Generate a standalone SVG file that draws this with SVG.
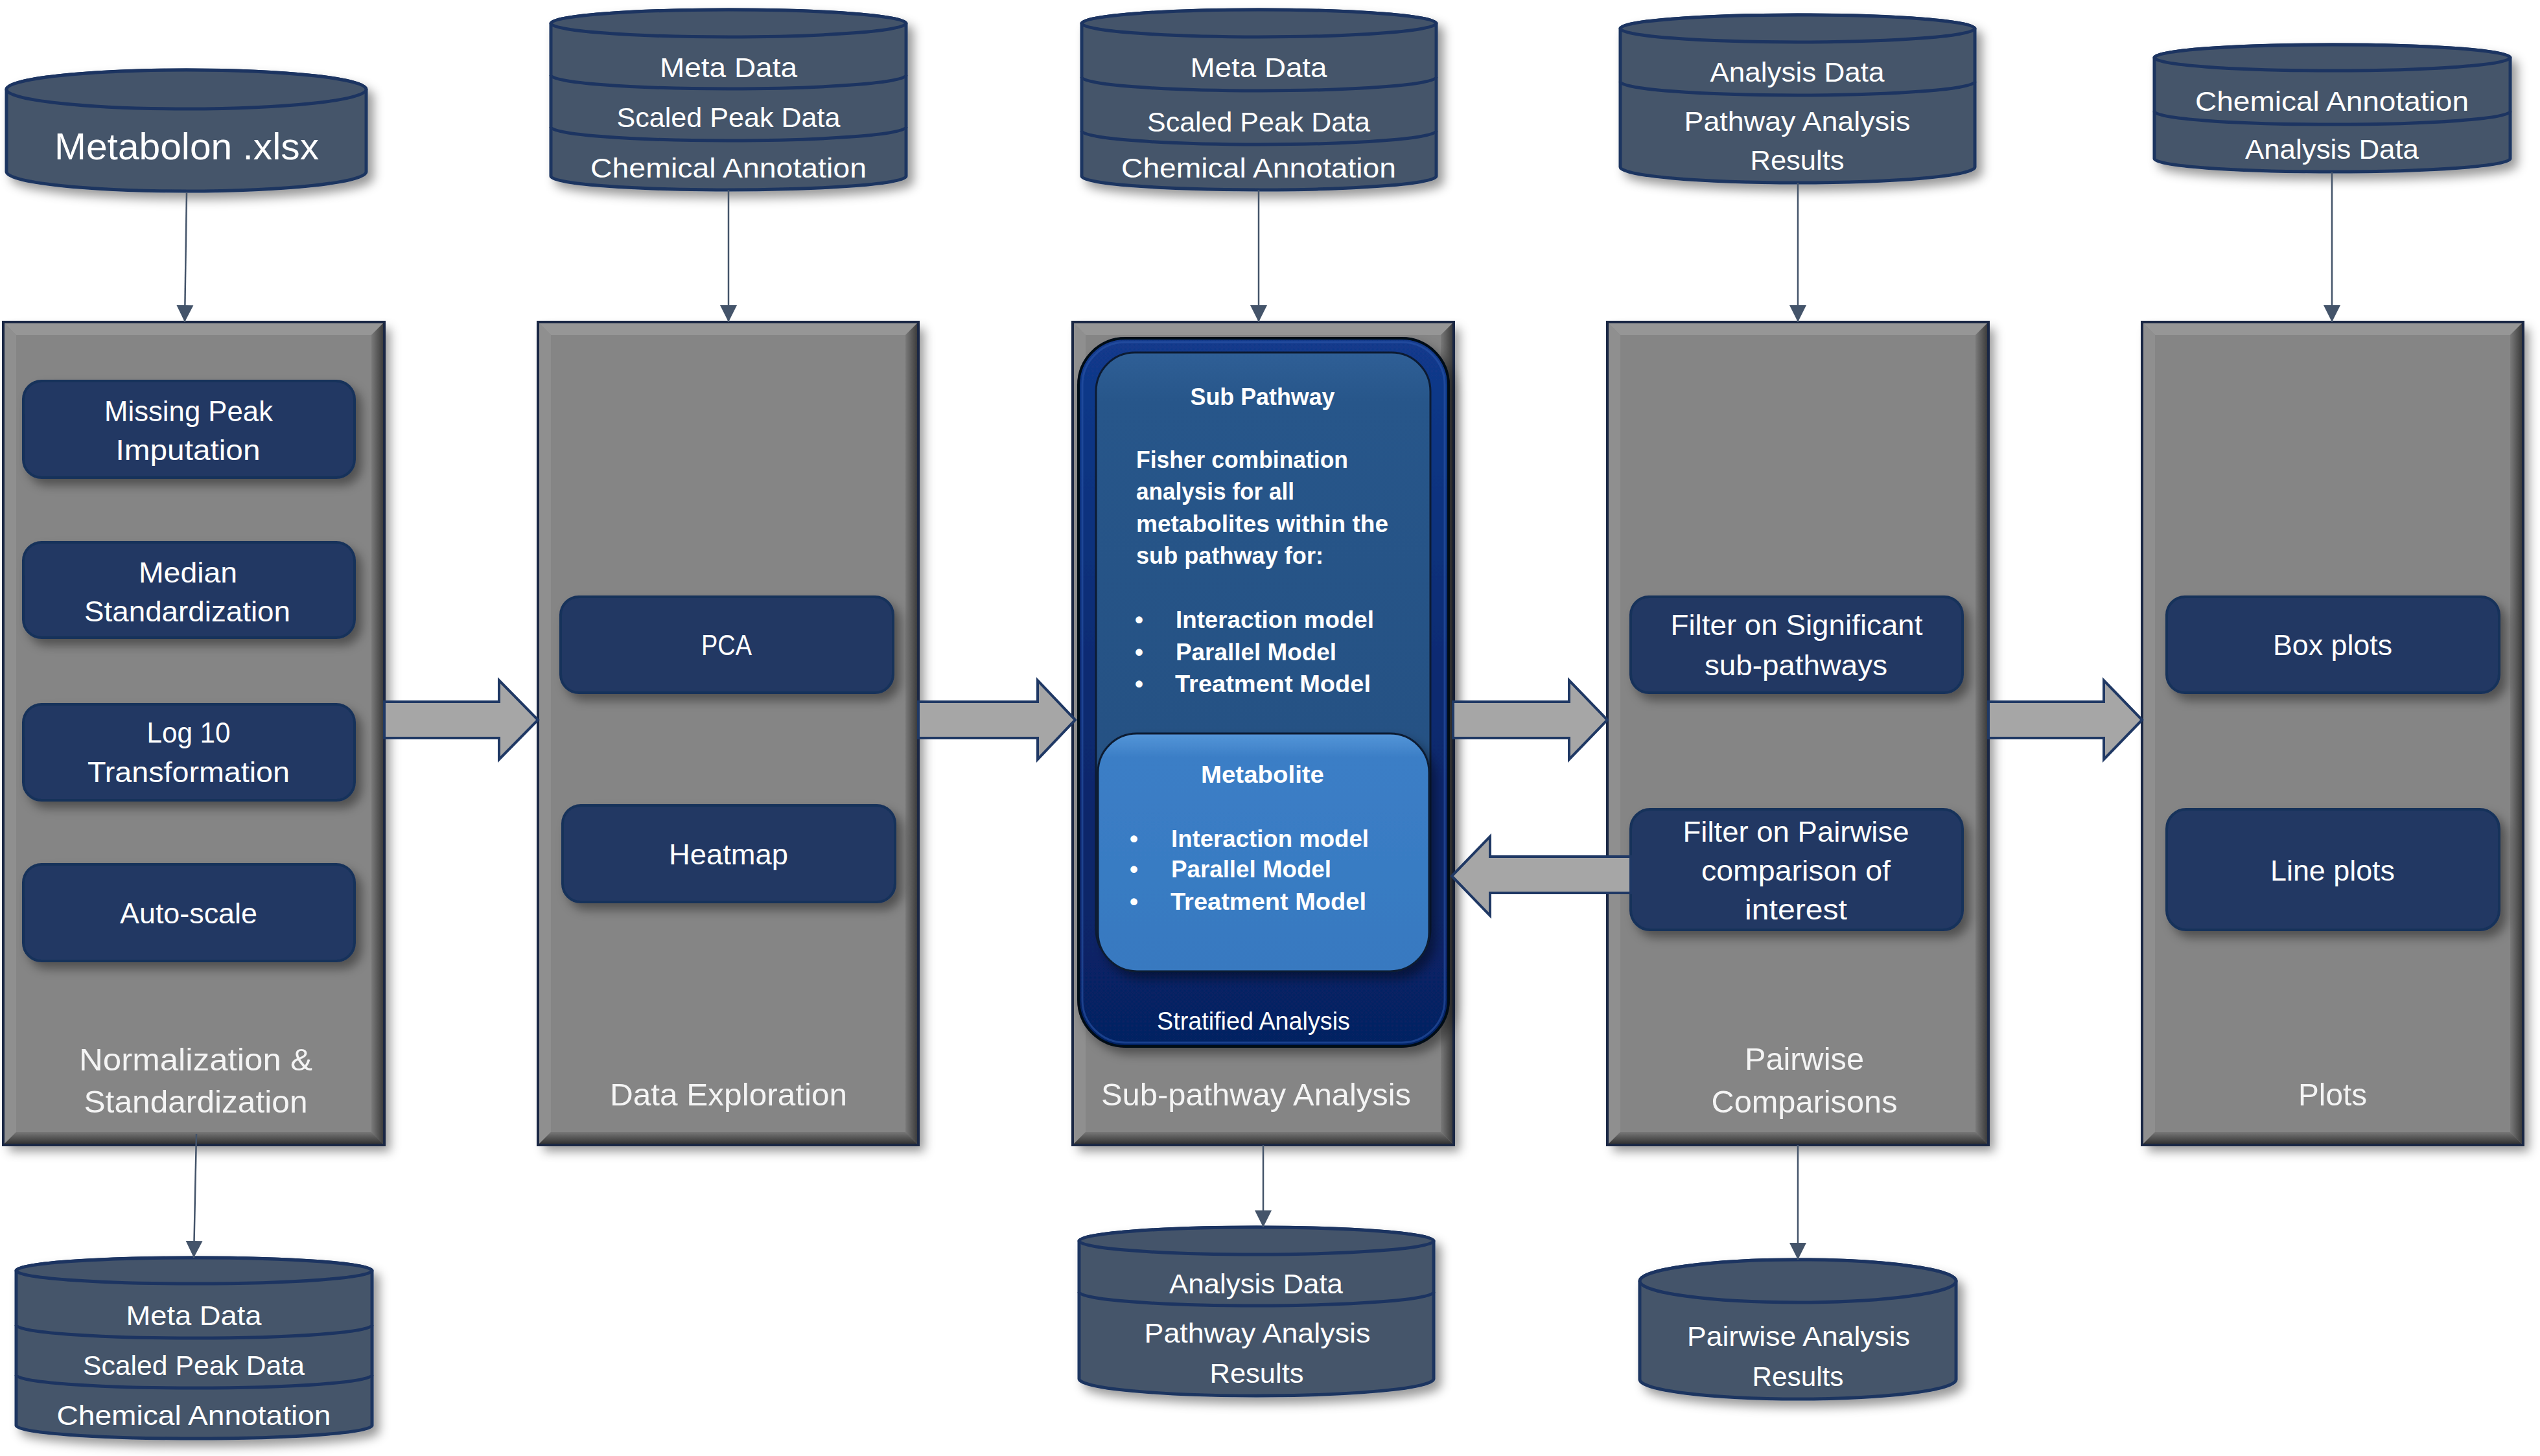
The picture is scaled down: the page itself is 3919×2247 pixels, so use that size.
<svg xmlns="http://www.w3.org/2000/svg" width="3919" height="2247" viewBox="0 0 3919 2247">
<style>
text{font-family:"Liberation Sans",Arial,sans-serif;fill:#ffffff}
.cyl{fill:#44546a;stroke:#1c3461;stroke-width:5}
.cylline{fill:none;stroke:#1c3461;stroke-width:5}
.ct{font-size:43px;text-anchor:middle}
.pbase{fill:#858585}
.pedge{fill:none;stroke:#1a2744;stroke-width:4}
.box{fill:#203864;stroke:#18305a;stroke-width:4}
.bt{font-size:44px;text-anchor:middle}
.pl{font-size:49px;text-anchor:middle;fill:#f4f4f4}
.blk{fill:#a6a6a6;stroke:#1f3864;stroke-width:4;stroke-linejoin:miter}
.con{stroke:#44546a;stroke-width:2.5;fill:none}
.sb{font-size:37px;font-weight:bold}
.sbc{font-size:37px;font-weight:bold;text-anchor:middle}
</style>
<defs>
<filter id="sh" x="-10%" y="-10%" width="130%" height="130%">
<feDropShadow dx="9" dy="10" stdDeviation="8" flood-color="#000" flood-opacity="0.4"/>
</filter>
<linearGradient id="gBot" x1="0" y1="0" x2="0" y2="1"><stop offset="0" stop-color="#777"/><stop offset="1" stop-color="#2c2c2c"/></linearGradient>
<linearGradient id="gRight" x1="0" y1="0" x2="1" y2="0"><stop offset="0" stop-color="#7a7a7a"/><stop offset="1" stop-color="#363636"/></linearGradient>
<linearGradient id="gOuter" x1="0" y1="0" x2="0" y2="1"><stop offset="0" stop-color="#123a8c"/><stop offset="0.5" stop-color="#0a2a70"/><stop offset="1" stop-color="#062262"/></linearGradient>
<linearGradient id="gSub" x1="0" y1="0" x2="0" y2="1"><stop offset="0" stop-color="#2f5f96"/><stop offset="0.08" stop-color="#27568a"/><stop offset="1" stop-color="#244f80"/></linearGradient>
<linearGradient id="gMet" x1="0" y1="0" x2="0" y2="1"><stop offset="0" stop-color="#5596d8"/><stop offset="0.1" stop-color="#3b7ec6"/><stop offset="1" stop-color="#3779c0"/></linearGradient>
<marker id="ah" markerUnits="userSpaceOnUse" markerWidth="28" markerHeight="28" viewBox="0 0 28 28" refX="26" refY="14" orient="auto">
<path d="M0,1 L26,14 L0,27 Z" fill="#44546a"/>
</marker>
</defs>
<rect width="3919" height="2247" fill="#ffffff"/>

<!-- Panels -->
<g id="panel-normalization">
<g filter="url(#sh)"><rect class="pbase" x="5" y="497" width="588" height="1270"/></g>
<polygon points="5,497 593,497 573,517 25,517" fill="#969696"/>
<polygon points="5,497 25,517 25,1747 5,1767" fill="#8f8f8f"/>
<polygon points="593,497 593,1767 573,1747 573,517" fill="url(#gRight)"/>
<polygon points="5,1767 593,1767 573,1747 25,1747" fill="url(#gBot)"/>
<rect class="pedge" x="5" y="497" width="588" height="1270"/>
<g filter="url(#sh)">
<rect class="box" x="36" y="588" width="511" height="149" rx="28"/>
<rect class="box" x="36" y="837" width="511" height="147" rx="28"/>
<rect class="box" x="36" y="1087" width="511" height="148" rx="28"/>
<rect class="box" x="36" y="1334" width="511" height="149" rx="28"/>
</g>
<text class="bt" x="291" y="650" textLength="260" lengthAdjust="spacingAndGlyphs">Missing Peak</text>
<text class="bt" x="290" y="710" textLength="223" lengthAdjust="spacingAndGlyphs">Imputation</text>
<text class="bt" x="290" y="899" textLength="152" lengthAdjust="spacingAndGlyphs">Median</text>
<text class="bt" x="289" y="959" textLength="318" lengthAdjust="spacingAndGlyphs">Standardization</text>
<text class="bt" x="291" y="1146" textLength="129" lengthAdjust="spacingAndGlyphs">Log 10</text>
<text class="bt" x="291" y="1207" textLength="312" lengthAdjust="spacingAndGlyphs">Transformation</text>
<text class="bt" x="291" y="1425" textLength="212" lengthAdjust="spacingAndGlyphs">Auto-scale</text>
<text class="pl" x="302" y="1652" textLength="360" lengthAdjust="spacingAndGlyphs">Normalization &amp;</text>
<text class="pl" x="302" y="1717" textLength="345" lengthAdjust="spacingAndGlyphs">Standardization</text>
</g>

<g id="panel-exploration">
<g filter="url(#sh)"><rect class="pbase" x="830" y="497" width="587" height="1270"/></g>
<polygon points="830,497 1417,497 1397,517 850,517" fill="#969696"/>
<polygon points="830,497 850,517 850,1747 830,1767" fill="#8f8f8f"/>
<polygon points="1417,497 1417,1767 1397,1747 1397,517" fill="url(#gRight)"/>
<polygon points="830,1767 1417,1767 1397,1747 850,1747" fill="url(#gBot)"/>
<rect class="pedge" x="830" y="497" width="587" height="1270"/>
<g filter="url(#sh)">
<rect class="box" x="865" y="921" width="513" height="148" rx="28"/>
<rect class="box" x="868" y="1243" width="513" height="149" rx="28"/>
</g>
<text class="bt" x="1121" y="1011" textLength="78" lengthAdjust="spacingAndGlyphs">PCA</text>
<text class="bt" x="1124" y="1334" textLength="184" lengthAdjust="spacingAndGlyphs">Heatmap</text>
<text class="pl" x="1124" y="1706" textLength="366" lengthAdjust="spacingAndGlyphs">Data Exploration</text>
</g>

<g id="panel-subpathway">
<g filter="url(#sh)"><rect class="pbase" x="1655" y="497" width="588" height="1270"/></g>
<polygon points="1655,497 2243,497 2223,517 1675,517" fill="#969696"/>
<polygon points="1655,497 1675,517 1675,1747 1655,1767" fill="#8f8f8f"/>
<polygon points="2243,497 2243,1767 2223,1747 2223,517" fill="url(#gRight)"/>
<polygon points="1655,1767 2243,1767 2223,1747 1675,1747" fill="url(#gBot)"/>
<rect class="pedge" x="1655" y="497" width="588" height="1270"/>
<text class="pl" x="1938" y="1706" textLength="478" lengthAdjust="spacingAndGlyphs">Sub-pathway Analysis</text>
</g>

<g id="stratified">
<g filter="url(#sh)"><rect x="1664" y="522" width="571" height="1093" rx="72" fill="url(#gOuter)" stroke="#000814" stroke-width="4"/></g>
<rect x="1670" y="528" width="559" height="1081" rx="66" fill="none" stroke="#2a55a8" stroke-width="3" opacity="0.6"/>
<rect x="1691" y="544" width="516" height="950" rx="60" fill="url(#gSub)" stroke="#0c1b33" stroke-width="3"/>
<g filter="url(#sh)"><rect x="1694" y="1132" width="511" height="367" rx="60" fill="url(#gMet)" stroke="#0c1b33" stroke-width="3"/></g>
<text class="sbc" x="1948" y="625" textLength="223" lengthAdjust="spacingAndGlyphs">Sub Pathway</text>
<text class="sb" x="1753" y="722" textLength="327" lengthAdjust="spacingAndGlyphs">Fisher combination</text>
<text class="sb" x="1753" y="771" textLength="244" lengthAdjust="spacingAndGlyphs">analysis for all</text>
<text class="sb" x="1753" y="821" textLength="389" lengthAdjust="spacingAndGlyphs">metabolites within the</text>
<text class="sb" x="1753" y="870" textLength="289" lengthAdjust="spacingAndGlyphs">sub pathway for:</text>
<text class="sb" x="1751" y="969">•</text>
<text class="sb" x="1751" y="1019">•</text>
<text class="sb" x="1751" y="1068">•</text>
<text class="sb" x="1814" y="969" textLength="306" lengthAdjust="spacingAndGlyphs">Interaction model</text>
<text class="sb" x="1814" y="1019" textLength="248" lengthAdjust="spacingAndGlyphs">Parallel Model</text>
<text class="sb" x="1813" y="1068" textLength="302" lengthAdjust="spacingAndGlyphs">Treatment Model</text>
<text class="sbc" x="1948" y="1208" textLength="190" lengthAdjust="spacingAndGlyphs">Metabolite</text>
<text class="sb" x="1743" y="1307">•</text>
<text class="sb" x="1743" y="1354">•</text>
<text class="sb" x="1743" y="1404">•</text>
<text class="sb" x="1807" y="1307" textLength="305" lengthAdjust="spacingAndGlyphs">Interaction model</text>
<text class="sb" x="1807" y="1354" textLength="247" lengthAdjust="spacingAndGlyphs">Parallel Model</text>
<text class="sb" x="1806" y="1404" textLength="302" lengthAdjust="spacingAndGlyphs">Treatment Model</text>
<text x="1934" y="1589" font-size="38" text-anchor="middle" textLength="298" lengthAdjust="spacingAndGlyphs">Stratified Analysis</text>
</g>

<g id="panel-pairwise">
<g filter="url(#sh)"><rect class="pbase" x="2480" y="497" width="588" height="1270"/></g>
<polygon points="2480,497 3068,497 3048,517 2500,517" fill="#969696"/>
<polygon points="2480,497 2500,517 2500,1747 2480,1767" fill="#8f8f8f"/>
<polygon points="3068,497 3068,1767 3048,1747 3048,517" fill="url(#gRight)"/>
<polygon points="2480,1767 3068,1767 3048,1747 2500,1747" fill="url(#gBot)"/>
<rect class="pedge" x="2480" y="497" width="588" height="1270"/>
<g filter="url(#sh)">
<rect class="box" x="2516" y="921" width="512" height="148" rx="28"/>
<rect class="box" x="2516" y="1249" width="512" height="186" rx="30"/>
</g>
<text class="bt" x="2772" y="980" textLength="389" lengthAdjust="spacingAndGlyphs">Filter on Significant</text>
<text class="bt" x="2771" y="1042" textLength="282" lengthAdjust="spacingAndGlyphs">sub-pathways</text>
<text class="bt" x="2771" y="1299" textLength="349" lengthAdjust="spacingAndGlyphs">Filter on Pairwise</text>
<text class="bt" x="2771" y="1359" textLength="292" lengthAdjust="spacingAndGlyphs">comparison of</text>
<text class="bt" x="2771" y="1419" textLength="158" lengthAdjust="spacingAndGlyphs">interest</text>
<text class="pl" x="2784" y="1651" textLength="184" lengthAdjust="spacingAndGlyphs">Pairwise</text>
<text class="pl" x="2784" y="1717" textLength="287" lengthAdjust="spacingAndGlyphs">Comparisons</text>
</g>

<g id="panel-plots">
<g filter="url(#sh)"><rect class="pbase" x="3305" y="497" width="588" height="1270"/></g>
<polygon points="3305,497 3893,497 3873,517 3325,517" fill="#969696"/>
<polygon points="3305,497 3325,517 3325,1747 3305,1767" fill="#8f8f8f"/>
<polygon points="3893,497 3893,1767 3873,1747 3873,517" fill="url(#gRight)"/>
<polygon points="3305,1767 3893,1767 3873,1747 3325,1747" fill="url(#gBot)"/>
<rect class="pedge" x="3305" y="497" width="588" height="1270"/>
<g filter="url(#sh)">
<rect class="box" x="3343" y="921" width="513" height="148" rx="28"/>
<rect class="box" x="3343" y="1249" width="513" height="186" rx="30"/>
</g>
<text class="bt" x="3599" y="1011" textLength="184" lengthAdjust="spacingAndGlyphs">Box plots</text>
<text class="bt" x="3599" y="1359" textLength="192" lengthAdjust="spacingAndGlyphs">Line plots</text>
<text class="pl" x="3599" y="1706" textLength="106" lengthAdjust="spacingAndGlyphs">Plots</text>
</g>

<!-- Data cylinders -->
<g id="db-metabolon">
<path class="cyl" filter="url(#sh)" d="M10,138 L10,265 A277.5,30 0 0 0 565,265 L565,138 A277.5,30 0 0 0 10,138 Z"/>
<ellipse class="cyl" cx="287.5" cy="138" rx="277.5" ry="30"/>
<text x="288" y="246" font-size="57" text-anchor="middle" textLength="408" lengthAdjust="spacingAndGlyphs">Metabolon .xlsx</text>
</g>

<g id="db-top-2">
<path class="cyl" filter="url(#sh)" d="M850,36 L850,272 A274,21 0 0 0 1398,272 L1398,36 A274,21 0 0 0 850,36 Z"/>
<ellipse class="cyl" cx="1124" cy="36" rx="274" ry="21"/>
<path class="cylline" d="M850,116 A274,21 0 0 0 1398,116"/>
<path class="cylline" d="M850,196 A274,21 0 0 0 1398,196"/>
<text class="ct" x="1124" y="119" textLength="212" lengthAdjust="spacingAndGlyphs">Meta Data</text>
<text class="ct" x="1124" y="196" textLength="345" lengthAdjust="spacingAndGlyphs">Scaled Peak Data</text>
<text class="ct" x="1124" y="274" textLength="426" lengthAdjust="spacingAndGlyphs">Chemical Annotation</text>
</g>

<g id="db-top-3">
<path class="cyl" filter="url(#sh)" d="M1669,36 L1669,272 A273.5,21 0 0 0 2216,272 L2216,36 A273.5,21 0 0 0 1669,36 Z"/>
<ellipse class="cyl" cx="1942.5" cy="36" rx="273.5" ry="21"/>
<path class="cylline" d="M1669,119 A273.5,21 0 0 0 2216,119"/>
<path class="cylline" d="M1669,202 A273.5,21 0 0 0 2216,202"/>
<text class="ct" x="1942" y="119" textLength="211" lengthAdjust="spacingAndGlyphs">Meta Data</text>
<text class="ct" x="1942" y="203" textLength="344" lengthAdjust="spacingAndGlyphs">Scaled Peak Data</text>
<text class="ct" x="1942" y="274" textLength="424" lengthAdjust="spacingAndGlyphs">Chemical Annotation</text>
</g>

<g id="db-top-4">
<path class="cyl" filter="url(#sh)" d="M2500,44 L2500,258 A273.5,24 0 0 0 3047,258 L3047,44 A273.5,21 0 0 0 2500,44 Z"/>
<ellipse class="cyl" cx="2773.5" cy="44" rx="273.5" ry="21"/>
<path class="cylline" d="M2500,126 A273.5,21 0 0 0 3047,126"/>
<text class="ct" x="2773" y="126" textLength="269" lengthAdjust="spacingAndGlyphs">Analysis Data</text>
<text class="ct" x="2773" y="202" textLength="349" lengthAdjust="spacingAndGlyphs">Pathway Analysis</text>
<text class="ct" x="2773" y="262" textLength="145" lengthAdjust="spacingAndGlyphs">Results</text>
</g>

<g id="db-top-5">
<path class="cyl" filter="url(#sh)" d="M3324,89 L3324,245 A274.5,20 0 0 0 3873,245 L3873,89 A274.5,20 0 0 0 3324,89 Z"/>
<ellipse class="cyl" cx="3598.5" cy="89" rx="274.5" ry="20"/>
<path class="cylline" d="M3324,172 A274.5,20 0 0 0 3873,172"/>
<text class="ct" x="3598" y="171" textLength="422" lengthAdjust="spacingAndGlyphs">Chemical Annotation</text>
<text class="ct" x="3598" y="245" textLength="268" lengthAdjust="spacingAndGlyphs">Analysis Data</text>
</g>

<g id="db-bottom-1">
<path class="cyl" filter="url(#sh)" d="M25,1961 L25,2200 A274.5,20 0 0 0 574,2200 L574,1961 A274.5,20 0 0 0 25,1961 Z"/>
<ellipse class="cyl" cx="299.5" cy="1961" rx="274.5" ry="20"/>
<path class="cylline" d="M25,2045 A274.5,20 0 0 0 574,2045"/>
<path class="cylline" d="M25,2122 A274.5,20 0 0 0 574,2122"/>
<text class="ct" x="299" y="2045" textLength="209" lengthAdjust="spacingAndGlyphs">Meta Data</text>
<text class="ct" x="299" y="2122" textLength="342" lengthAdjust="spacingAndGlyphs">Scaled Peak Data</text>
<text class="ct" x="299" y="2199" textLength="423" lengthAdjust="spacingAndGlyphs">Chemical Annotation</text>
</g>

<g id="db-bottom-3">
<path class="cyl" filter="url(#sh)" d="M1665,1915 L1665,2128 A273.5,26 0 0 0 2212,2128 L2212,1915 A273.5,21 0 0 0 1665,1915 Z"/>
<ellipse class="cyl" cx="1938.5" cy="1915" rx="273.5" ry="21"/>
<path class="cylline" d="M1665,1994 A273.5,21 0 0 0 2212,1994"/>
<text class="ct" x="1938" y="1996" textLength="268" lengthAdjust="spacingAndGlyphs">Analysis Data</text>
<text class="ct" x="1940" y="2072" textLength="349" lengthAdjust="spacingAndGlyphs">Pathway Analysis</text>
<text class="ct" x="1939" y="2134" textLength="145" lengthAdjust="spacingAndGlyphs">Results</text>
</g>

<g id="db-bottom-4">
<path class="cyl" filter="url(#sh)" d="M2530,1977 L2530,2129 A244,30 0 0 0 3018,2129 L3018,1977 A244,33 0 0 0 2530,1977 Z"/>
<ellipse class="cyl" cx="2774" cy="1977" rx="244" ry="33"/>
<text class="ct" x="2775" y="2077" textLength="344" lengthAdjust="spacingAndGlyphs">Pairwise Analysis</text>
<text class="ct" x="2774" y="2139" textLength="141" lengthAdjust="spacingAndGlyphs">Results</text>
</g>

<!-- Connectors -->
<g id="connectors">
<line class="con" x1="288" y1="296" x2="285" y2="497" marker-end="url(#ah)"/>
<line class="con" x1="1124" y1="293" x2="1124" y2="497" marker-end="url(#ah)"/>
<line class="con" x1="1942" y1="293" x2="1942" y2="497" marker-end="url(#ah)"/>
<line class="con" x1="2774" y1="282" x2="2774" y2="497" marker-end="url(#ah)"/>
<line class="con" x1="3598" y1="266" x2="3598" y2="497" marker-end="url(#ah)"/>
<line class="con" x1="303" y1="1750" x2="299" y2="1941" marker-end="url(#ah)"/>
<line class="con" x1="1949" y1="1767" x2="1949" y2="1894" marker-end="url(#ah)"/>
<line class="con" x1="2774" y1="1767" x2="2774" y2="1944" marker-end="url(#ah)"/>
<polygon class="blk" points="593,1083 770,1083 770,1050 830,1111 770,1172 770,1139 593,1139"/>
<polygon class="blk" points="1417,1083 1601,1083 1601,1050 1659,1111 1601,1172 1601,1139 1417,1139"/>
<polygon class="blk" points="2242,1083 2421,1083 2421,1050 2480,1111 2421,1172 2421,1139 2242,1139"/>
<polygon class="blk" points="3068,1083 3246,1083 3246,1050 3305,1111 3246,1172 3246,1139 3068,1139"/>
<polygon class="blk" points="2516,1322 2299,1322 2299,1291 2240,1352 2299,1413 2299,1378 2516,1378"/>
</g>
</svg>
